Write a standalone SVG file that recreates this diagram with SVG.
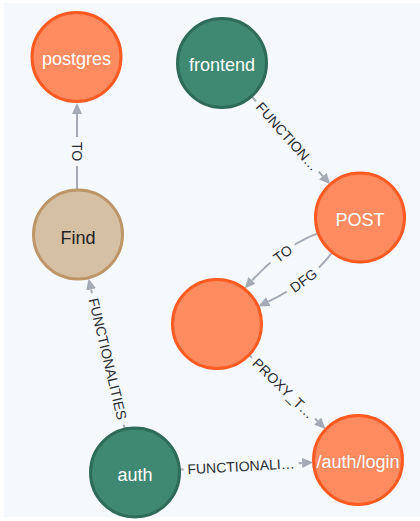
<svg xmlns="http://www.w3.org/2000/svg" width="420" height="521" viewBox="0 0 420 521">
  <defs>
    <style>
      .edge { fill: none; stroke: #a5abb6; stroke-width: 2; }
      .lbl { font-family: "Liberation Sans", Arial, sans-serif; font-size: 14px; fill: #2a2c34; text-anchor: middle; }
      .node circle { stroke-width: 3; }
      .orange circle { fill: #ff8b60; stroke: #ff5a22; }
      .green circle { fill: #3f8872; stroke: #2e6b58; }
      .tan circle { fill: #d6c0a4; stroke: #bc9669; }
      .node text { font-family: "Liberation Sans", Arial, sans-serif; font-size: 18px; text-anchor: middle; fill: #ffffff; }
      .tan text { fill: #222222; }
    </style>
    <marker id="arr" markerUnits="userSpaceOnUse" markerWidth="11" markerHeight="10" refX="0" refY="5" orient="auto" viewBox="0 0 11 10">
      <path d="M0,0 L11,5 L0,10 z" fill="#a5abb6"/>
    </marker>
    <mask id="m-to" maskUnits="userSpaceOnUse" x="0" y="0" width="420" height="521">
      <rect x="0" y="0" width="420" height="521" fill="#fff"/>
      <rect x="-15" y="-9" width="30" height="18" fill="#000" transform="translate(282.7,253.8) rotate(-36.5)"/>
    </mask>
    <mask id="m-dfg" maskUnits="userSpaceOnUse" x="0" y="0" width="420" height="521">
      <rect x="0" y="0" width="420" height="521" fill="#fff"/>
      <rect x="-20" y="-9" width="40" height="18" fill="#000" transform="translate(303.5,280.5) rotate(-36.5)"/>
    </mask>
  </defs>

  <rect x="0" y="0" width="420" height="521" fill="#ffffff"/>
  <rect x="4" y="3" width="416" height="514" fill="#f5f9fd"/>

  <g id="connectors">
    <!-- Find -> postgres : TO -->
    <g id="e-find-postgres">
      <line class="edge" x1="77" y1="189" x2="77" y2="166"/>
      <line class="edge" x1="77" y1="137" x2="77" y2="114" marker-end="url(#arr)"/>
      <text class="lbl" transform="translate(77,151.5) rotate(90)" dy="5">TO</text>
    </g>
    <!-- frontend -> POST -->
    <g id="e-frontend-post">
      <line class="edge" x1="251.9" y1="96.6" x2="256.1" y2="101.3"/>
      <line class="edge" x1="318.7" y1="171.5" x2="322.8" y2="176.1" marker-end="url(#arr)"/>
      <text class="lbl" transform="translate(287.4,136.4) rotate(48.3)" dy="5">FUNCTION…</text>
    </g>
    <!-- POST -> unnamed : TO -->
    <g id="e-post-unnamed-to">
      <path class="edge" mask="url(#m-to)" d="M317.7,233.4 Q283.9,246 252.1,280.4" marker-end="url(#arr)"/>
      <text class="lbl" transform="translate(282.7,253.8) rotate(-36.5)" dy="5">TO</text>
    </g>
    <!-- POST -> unnamed : DFG -->
    <g id="e-post-unnamed-dfg">
      <path class="edge" mask="url(#m-dfg)" d="M331.7,253 Q311.5,280.5 268.3,301.6" marker-end="url(#arr)"/>
      <text class="lbl" transform="translate(303.5,280.5) rotate(-36.5)" dy="5">DFG</text>
    </g>
    <!-- unnamed -> /auth/login : PROXY_T... -->
    <g id="e-unnamed-login">
      <line class="edge" x1="249.4" y1="355.2" x2="252.0" y2="357.9"/>
      <line class="edge" x1="315.0" y1="418.5" x2="317.7" y2="421.2" marker-end="url(#arr)"/>
      <text class="lbl" transform="translate(283.5,388.2) rotate(44)" dy="5">PROXY_T…</text>
    </g>
    <!-- auth -> /auth/login -->
    <g id="e-auth-login">
      <line class="edge" x1="180" y1="469.6" x2="183.6" y2="469.4"/>
      <line class="edge" x1="298.5" y1="463.2" x2="302.1" y2="463.0" marker-end="url(#arr)"/>
      <text class="lbl" transform="translate(241.05,466.3) rotate(-3.08)" dy="5">FUNCTIONALI…</text>
    </g>
    <!-- auth -> Find -->
    <g id="e-auth-find">
      <line class="edge" x1="124.5" y1="428.3" x2="123.6" y2="424.5"/>
      <line class="edge" x1="92.0" y1="293.2" x2="91.1" y2="289.4" marker-end="url(#arr)"/>
      <text class="lbl" transform="translate(107.8,358.9) rotate(76.5)" dy="5">FUNCTIONALITIES</text>
    </g>
  </g>

  <g id="node-postgres" class="node orange">
    <circle cx="76.5" cy="57" r="44.5"/>
    <text x="76.5" y="65">postgres</text>
  </g>
  <g id="node-frontend" class="node green">
    <circle cx="222" cy="63" r="44.5"/>
    <text x="222" y="71">frontend</text>
  </g>
  <g id="node-post" class="node orange">
    <circle cx="360" cy="217.5" r="44.5"/>
    <text x="360" y="226">POST</text>
  </g>
  <g id="node-find" class="node tan">
    <circle cx="78" cy="234.5" r="44.5"/>
    <text x="78" y="244">Find</text>
  </g>
  <g id="node-unnamed" class="node orange">
    <circle cx="217" cy="324" r="44.5"/>
  </g>
  <g id="node-auth" class="node green">
    <circle cx="135" cy="472.5" r="44.5"/>
    <text x="135" y="481">auth</text>
  </g>
  <g id="node-authlogin" class="node orange">
    <circle cx="358" cy="460" r="44.5"/>
    <text x="358" y="468">/auth/login</text>
  </g>
</svg>
